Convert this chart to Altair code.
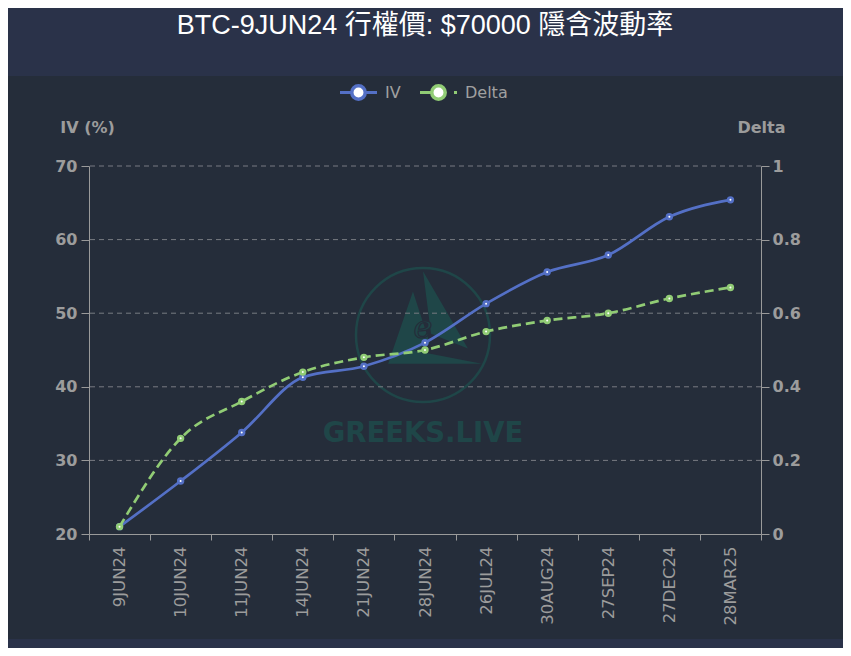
import altair as alt
import pandas as pd

# ---- data ----
cats = ["9JUN24", "10JUN24", "11JUN24", "14JUN24", "21JUN24", "28JUN24",
        "26JUL24", "30AUG24", "27SEP24", "27DEC24", "28MAR25"]
iv = [21.0, 27.2, 33.8, 41.3, 42.8, 46.0, 51.3, 55.6, 57.9, 63.1, 65.4]
delta = [0.02, 0.26, 0.36, 0.44, 0.48, 0.50, 0.55, 0.58, 0.60, 0.64, 0.67]
iv_ticks = [20, 30, 40, 50, 60, 70]
iv_grid = [30, 40, 50, 60, 70]
delta_ticks = [0, 0.2, 0.4, 0.6, 0.8, 1]

title_text = "BTC-9JUN24 行權價: $70000 隱含波動率"

df = pd.DataFrame({"expiry": cats, "IV": iv, "Delta": delta})
grid_df = pd.DataFrame({"v": iv_grid})
one = alt.Data(values=[{}])

# ---- styles ----
W, H = 672, 368
BG_IN = "#252d3a"
BG_OUT = "#2a3249"
BLUE = "#5470c6"
GREEN = "#91cc75"
LABEL = "#9c9c9c"
AXIS = "#9a9a9a"
GRID = "#787b82"
WM = "#1f4648"
FONT = "DejaVu Sans"
TFONT = "'Liberation Sans', 'Noto Sans CJK TC', sans-serif"

x_enc = alt.X(
    "expiry:N", sort=cats, bandPosition=0.5,
    scale=alt.Scale(type="band", paddingInner=0, paddingOuter=0),
    axis=alt.Axis(title=None, tickBand="extent", labelAngle=-90,
                  labelFontSize=16.5, labelColor=LABEL, labelFont=FONT,
                  labelPadding=6, tickSize=6, tickColor=AXIS, domainColor=AXIS,
                  grid=False, labelOverlap=False),
)

iv_axis = alt.Axis(
    title="IV (%)", orient="left", titleAngle=0, titleX=-2, titleY=-34,
    titleAlign="center", titleBaseline="alphabetic", titleFont=FONT,
    titleFontSize=16, titleFontWeight="bold", titleColor=LABEL,
    values=iv_ticks, labelFont=FONT, labelFontSize=16, labelFontWeight="bold",
    labelColor=LABEL, tickSize=8, tickColor=AXIS, domainColor=AXIS,
    labelPadding=4, grid=False,
)
iv_scale = alt.Scale(domain=[20, 70], nice=False, zero=False)

d_axis = alt.Axis(
    title="Delta", orient="right", titleAngle=0, titleX=0, titleY=-34,
    titleAlign="center", titleBaseline="alphabetic", titleFont=FONT,
    titleFontSize=16, titleFontWeight="bold", titleColor=LABEL,
    values=delta_ticks, format="~g", labelFont=FONT, labelFontSize=16,
    labelFontWeight="bold", labelColor=LABEL, tickSize=8, tickColor=AXIS,
    domainColor=AXIS, labelPadding=3, grid=False,
)
d_scale = alt.Scale(domain=[0, 1], nice=False, zero=False)

# ---- decorations ----
band_top = alt.Chart(one).mark_rect(color=BG_OUT).encode(
    x=alt.value(-100), x2=alt.value(W + 100), y=alt.value(-170), y2=alt.value(-90))
band_bot = alt.Chart(one).mark_rect(color=BG_OUT).encode(
    x=alt.value(-100), x2=alt.value(W + 100), y=alt.value(473), y2=alt.value(500))

wm_circle = alt.Chart(one).mark_point(
    shape="circle", filled=False, color=WM, strokeWidth=2.5, size=134 ** 2, opacity=1
).encode(x=alt.value(334), y=alt.value(169))
tri_path = ("M-0.15,-0.65 L-0.52,0.43 L0.1,0.12 Z "
            "M0,-0.95 L0.67,0.2 L0.12,-0.02 Z "
            "M-0.52,0.43 L0.88,0.43 L-0.2,0.22 Z")
wm_tri = alt.Chart(one).mark_point(
    shape=tri_path, filled=True, color=WM, size=134 ** 2, opacity=1, strokeWidth=0
).encode(x=alt.value(334), y=alt.value(169))
wm_e = alt.Chart(one).mark_text(
    text="e", font="DejaVu Serif", fontStyle="italic", fontSize=32, color=WM,
    stroke=BG_IN, strokeWidth=1.2, align="center", baseline="middle"
).encode(x=alt.value(334), y=alt.value(162))
wm_text = alt.Chart(one).mark_text(
    text="GREEKS.LIVE", font=FONT, fontWeight="bold", fontSize=27.5, color=WM,
    align="center", baseline="alphabetic"
).encode(x=alt.value(334), y=alt.value(276))

title = alt.Chart(one).mark_text(
    text=title_text, font=TFONT, fontSize=27, color="#ffffff",
    align="center", baseline="alphabetic"
).encode(x=alt.value(336), y=alt.value(-132))

LY = -73.5
leg_iv_line = alt.Chart(one).mark_rule(color=BLUE, strokeWidth=3).encode(
    x=alt.value(251), x2=alt.value(288), y=alt.value(LY))
leg_iv_pt = alt.Chart(one).mark_point(
    shape="circle", filled=True, fill="white", stroke=BLUE, strokeWidth=3.5,
    size=180, opacity=1).encode(x=alt.value(269.5), y=alt.value(LY))
leg_iv_txt = alt.Chart(one).mark_text(
    text="IV", font=FONT, fontSize=16, color="#a0a0a0", align="left",
    baseline="middle").encode(x=alt.value(296), y=alt.value(LY))
leg_d_line = alt.Chart(one).mark_rule(color=GREEN, strokeWidth=3, strokeDash=[26, 8]).encode(
    x=alt.value(331), x2=alt.value(368), y=alt.value(LY))
leg_d_pt = alt.Chart(one).mark_point(
    shape="circle", filled=True, fill="white", stroke=GREEN, strokeWidth=3.5,
    size=180, opacity=1).encode(x=alt.value(349.5), y=alt.value(LY))
leg_d_txt = alt.Chart(one).mark_text(
    text="Delta", font=FONT, fontSize=16, color="#a0a0a0", align="left",
    baseline="middle").encode(x=alt.value(376), y=alt.value(LY))

# ---- data layers ----
grid = alt.Chart(grid_df).mark_rule(color=GRID, strokeDash=[5, 4], strokeWidth=1).encode(
    y=alt.Y("v:Q", scale=iv_scale, axis=iv_axis))
iv_line = alt.Chart(df).mark_line(color=BLUE, strokeWidth=2.7, interpolate="monotone").encode(
    x=x_enc, y=alt.Y("IV:Q", scale=iv_scale, axis=iv_axis))
iv_pts = alt.Chart(df).mark_point(
    filled=True, fill="white", stroke=BLUE, strokeWidth=2.7, size=22, opacity=1
).encode(x=x_enc, y=alt.Y("IV:Q", scale=iv_scale, axis=iv_axis))

d_line = alt.Chart(df).mark_line(
    color=GREEN, strokeWidth=2.7, strokeDash=[9, 5], interpolate="monotone"
).encode(x=x_enc, y=alt.Y("Delta:Q", scale=d_scale, axis=d_axis))
d_pts = alt.Chart(df).mark_point(
    filled=True, fill="white", stroke=GREEN, strokeWidth=2.7, size=22, opacity=1
).encode(x=x_enc, y=alt.Y("Delta:Q", scale=d_scale, axis=d_axis))

left = alt.layer(grid, iv_line, iv_pts)
right = alt.layer(d_line, d_pts)

chart = alt.layer(
    band_top, band_bot, wm_circle, wm_tri, wm_e, wm_text, title,
    leg_iv_line, leg_iv_pt, leg_iv_txt, leg_d_line, leg_d_pt, leg_d_txt,
    left, right,
).resolve_scale(y="independent").properties(
    width=W, height=H,
    padding={"left": 81, "top": 158, "right": 82, "bottom": 114},
    autosize=alt.AutoSizeParams(type="none"),
    background=BG_IN,
).configure_view(stroke=None)

chart.save("out.html", embed_options={"renderer": "svg", "actions": False})
